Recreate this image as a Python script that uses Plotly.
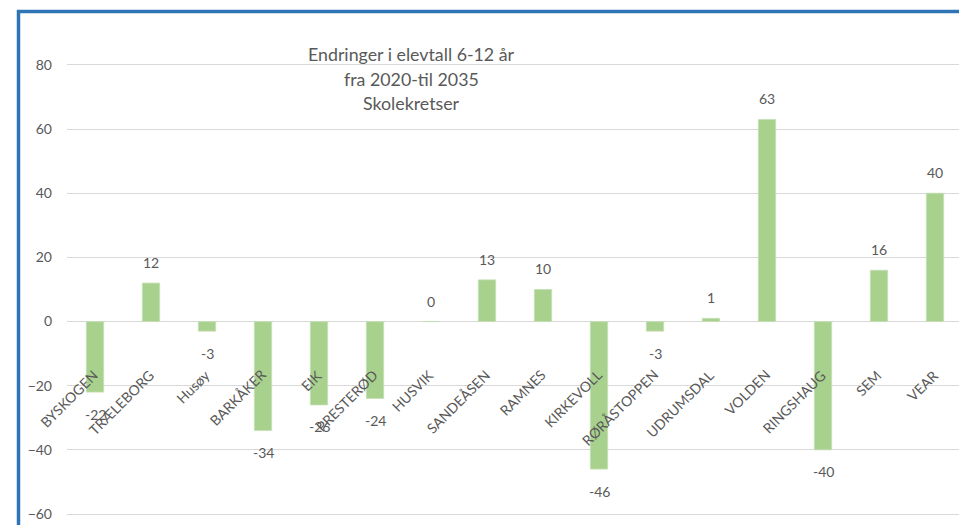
import plotly.graph_objects as go

categories = ["BYSKOGEN", "TRÆLEBORG", "Husøy", "BARKÅKER", "EIK", "PRESTERØD", "HUSVIK",
              "SANDEÅSEN", "RAMNES", "KIRKEVOLL", "RØRÅSTOPPEN", "UDRUMSDAL", "VOLDEN",
              "RINGSHAUG", "SEM", "VEAR"]
values = [-22, 12, -3, -34, -26, -24, 0, 13, 10, -46, -3, 1, 63, -40, 16, 40]
title_lines = ["Endringer i elevtall 6-12 år", "fra 2020-til 2035", "Skolekretser"]
y_ticks = [-60, -40, -20, 0, 20, 40, 60, 80]

FONT = "Lato"
GREY = "#595959"
OFF = 8  # page body margin offset
W, H = 967 - OFF, 525 - OFF
ML, MR, MT, MB = 67 - OFF, 4, 0, 0
Y0, Y1 = -63.43, 97.76

fig = go.Figure()
fig.add_trace(go.Bar(
    x=categories, y=values,
    marker=dict(color="#A9D18E", line=dict(color="#C5E0B4", width=0.8)),
    width=0.31, hoverinfo="x+y"))

ann = []
for c, v in zip(categories, values):
    if v >= 0:
        ann.append(dict(x=c, y=v, text=str(v), showarrow=False, yanchor="bottom",
                        yshift=10, font=dict(family=FONT, size=14, color=GREY)))
    else:
        ann.append(dict(x=c, y=v, text=str(v), showarrow=False, yanchor="top",
                        yshift=-11.5, font=dict(family=FONT, size=14, color=GREY)))
    ann.append(dict(x=c, y=-13.1, text=c, showarrow=False, textangle=-45,
                    xanchor="right", yanchor="top", xshift=9,
                    font=dict(family=FONT, size=14, color=GREY)))

pw = W - ML - MR
title_x = (411 - OFF - ML) / pw
title_y = [54, 78.5, 103]
for line, ty in zip(title_lines, title_y):
    ann.append(dict(xref="paper", yref="paper", x=title_x, y=1 - (ty - OFF) / H,
                    text=line, showarrow=False, xanchor="center", yanchor="middle",
                    font=dict(family=FONT, size=17.8, color=GREY)))

bx = (18.5 - OFF - ML) / pw
by = 1 - (11.5 - OFF) / H
shapes = [dict(type="path", xref="paper", yref="paper",
               path=f"M {bx} -0.05 L {bx} {by} L 1.1 {by}",
               line=dict(color="#2E75B6", width=3.5))]

fig.update_layout(
    width=W, height=H, margin=dict(l=ML, r=MR, t=MT, b=MB),
    paper_bgcolor="white", plot_bgcolor="white", showlegend=False,
    annotations=ann, shapes=shapes, bargap=0.69,
    xaxis=dict(showticklabels=False, showgrid=False, zeroline=False, showline=False,
               range=[-0.5, len(categories) - 0.5]),
    yaxis=dict(range=[Y0, Y1], tickvals=y_ticks, showgrid=True, gridcolor="#D9D9D9",
               gridwidth=1, zeroline=True, zerolinecolor="#D9D9D9", zerolinewidth=1,
               showline=False, ticks="", ticklabelstandoff=14,
               tickfont=dict(family=FONT, size=14, color=GREY)),
)
fig.write_html("out.html")
